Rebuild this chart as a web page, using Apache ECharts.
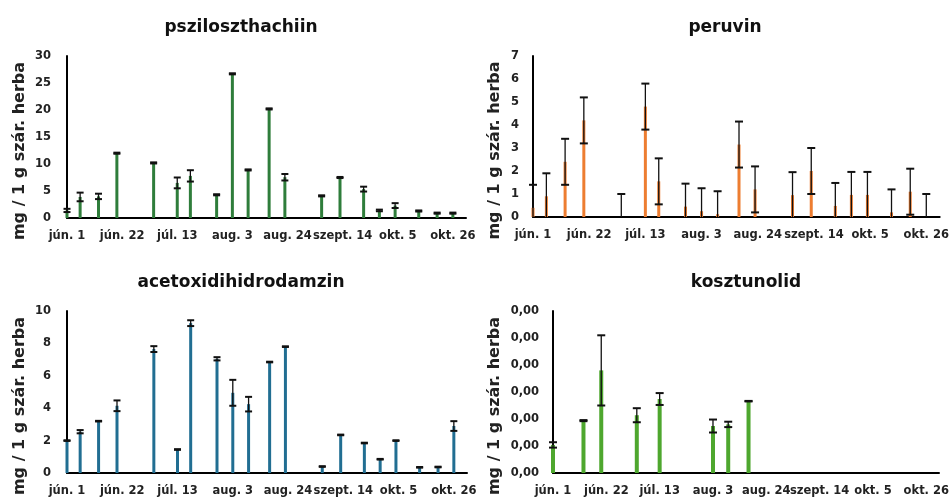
<!DOCTYPE html>
<html><head><meta charset="utf-8">
<script src="https://cdn.jsdelivr.net/npm/echarts@6/dist/echarts.min.js"></script>
<style>html,body{margin:0;padding:0;background:#fff}#c{width:952px;height:499px}</style>
</head><body><div id="c"></div>
<script>
// Sampling dates (2023)
const dates = ['2023-06-01','2023-06-06','2023-06-13','2023-06-20','2023-07-04','2023-07-13','2023-07-18','2023-07-28','2023-08-03','2023-08-09','2023-08-17','2023-08-23','2023-09-06','2023-09-13','2023-09-22','2023-09-28','2023-10-04','2023-10-13','2023-10-20','2023-10-26'];

// psziloszthachiin
const psziVals = [1.4,3.9,4.0,12.0,10.2,6.5,7.8,4.3,26.7,8.9,20.2,7.55,4.1,7.5,5.35,1.4,2.3,1.3,0.9,0.9];
const psziErr  = [0.3,0.8,0.5,0.1,0.1,1.0,1.05,0.1,0.1,0.1,0.1,0.6,0.1,0.1,0.45,0.15,0.45,0.1,0.1,0.1];
// peruvin
const peruVals = [0.4,0.9,2.4,4.2,0.0,4.8,1.55,0.45,0.25,0.12,3.15,1.2,0.95,2.0,0.48,0.96,0.96,0.2,1.1,0.0];
const peruErr  = [1.0,1.0,1.0,1.0,1.0,1.0,1.0,1.0,1.0,1.0,1.0,1.0,1.0,1.0,1.0,1.0,1.0,1.0,1.0,1.0];
// acetoxidihidrodamzin
const acetVals = [2.0,2.55,3.2,4.15,7.65,1.45,9.25,7.05,4.95,4.25,6.85,7.8,0.4,2.35,1.85,0.85,2.0,0.35,0.37,2.9];
const acetErr  = [0.02,0.1,0.02,0.33,0.18,0.02,0.18,0.1,0.8,0.45,0.02,0.02,0.02,0.02,0.02,0.02,0.02,0.02,0.02,0.3];
// kosztunolid
const koszVals = [0.00052,null,0.00097,0.0019,0.00107,0.00137,null,null,0.00087,0.0009,0.00133,null,null,null,null,null,null,null,null,null];
const koszErr  = [0.00005,null,0.00001,0.00065,0.00013,0.00011,null,null,0.00012,0.00005,0.000005,null,null,null,null,null,null,null,null,null];

const xTickLabels = ['jún. 1','jún. 22','júl. 13','aug. 3','aug. 24','szept. 14','okt. 5','okt. 26'];
const titles = ['psziloszthachiin','peruvin','acetoxidihidrodamzin','kosztunolid'];
const yName = 'mg / 1 g szár. herba';

const monthAbbr = {6:'jún.',7:'júl.',8:'aug.',9:'szept.',10:'okt.'};
const base = Date.UTC(2023,5,1);
function dayOf(s){const p=s.split('-').map(Number);return Math.round((Date.UTC(p[0],p[1]-1,p[2])-base)/86400000);}
const days = dates.map(dayOf);

const FONT = 'DejaVu Sans';
const panels = [
  {vals:psziVals, err:psziErr, color:'#2f7d3b', grid:{left:67,top:56,width:399,height:162}, y:{min:0,max:30,interval:5}, fmt:v=>String(v), gap:39, lm:16, capW:7, bw:3},
  {vals:peruVals, err:peruErr, color:'#ED7D31', grid:{left:533,top:56,width:408,height:161}, y:{min:0,max:7,interval:1}, fmt:v=>String(v), gap:30, lm:14, capW:8, bw:3},
  {vals:acetVals, err:acetErr, color:'#216e92', grid:{left:67,top:311,width:400,height:162}, y:{min:0,max:10,interval:2}, fmt:v=>String(v), gap:39, lm:16, capW:7, bw:3},
  {vals:koszVals, err:koszErr, color:'#4ea72e', grid:{left:553,top:311,width:388,height:162}, y:{min:0,max:0.003,interval:0.0005}, fmt:v=>v.toFixed(2).replace('.',','), gap:50, lm:14, capW:8, bw:4}
];

const option = {
  animation:false,
  backgroundColor:'#fff',
  title: [
    {text:titles[0], left:236, top:14, textAlign:'center'},
    {text:titles[1], left:720, top:14, textAlign:'center'},
    {text:titles[2], left:236, top:269, textAlign:'center'},
    {text:titles[3], left:741, top:269, textAlign:'center'}
  ].map(t=>Object.assign(t,{textStyle:{fontFamily:FONT,fontWeight:'bold',fontSize:17,color:'#111'}})),
  grid: panels.map(p=>p.grid),
  xAxis: panels.map((p,i)=>({
    type:'value', gridIndex:i, min:0, max:152, interval:21,
    axisLine:{show:true,onZero:false,lineStyle:{color:'#000',width:2}},
    axisTick:{show:false}, splitLine:{show:false},
    axisLabel:{showMaxLabel:false, margin:12, fontFamily:FONT, fontWeight:'bold', fontSize:11.5, color:'#222',
      formatter:v=>{const k=Math.round(v/21);return (v%21===0 && xTickLabels[k])?xTickLabels[k]:'';}}
  })),
  yAxis: panels.map((p,i)=>({
    type:'value', gridIndex:i, min:p.y.min, max:p.y.max, interval:p.y.interval,
    name:yName, nameLocation:'middle', nameGap:p.gap, nameRotate:90,
    nameTextStyle:{fontFamily:FONT,fontWeight:'bold',fontSize:16,color:'#222',padding:[0,28,0,0]},
    axisLine:{show:true,lineStyle:{color:'#000',width:2}},
    axisTick:{show:false}, splitLine:{show:false},
    axisLabel:{margin:p.lm, fontFamily:FONT, fontWeight:'bold', fontSize:11.5, color:'#222', formatter:p.fmt}
  })),
  series: []
};

panels.forEach((p,i)=>{
  const barData = [], errData = [];
  days.forEach((d,j)=>{
    if (p.vals[j]==null) return;
    barData.push([d,p.vals[j]]);
    errData.push([d,p.vals[j],p.err[j]]);
  });
  option.series.push({
    type:'bar', xAxisIndex:i, yAxisIndex:i, data:barData, barWidth:p.bw,
    itemStyle:{color:p.color}, silent:true
  });
  option.series.push({
    type:'custom', xAxisIndex:i, yAxisIndex:i, data:errData, silent:true, z:5,
    encode:{x:0,y:1},
    renderItem:(params,api)=>{
      const x=api.value(0), v=api.value(1), e=api.value(2);
      const hi=api.coord([x,v+e]), lo=api.coord([x,Math.max(0,v-e)]);
      const w=p.capW;
      const ch=[
        {type:'line',shape:{x1:hi[0],y1:hi[1],x2:lo[0],y2:lo[1]},style:{stroke:'#111',lineWidth:1.3}},
        {type:'line',shape:{x1:hi[0]-w/2,y1:hi[1],x2:hi[0]+w/2,y2:hi[1]},style:{stroke:'#111',lineWidth:2}}
      ];
      if (v-e>0) ch.push({type:'line',shape:{x1:lo[0]-w/2,y1:lo[1],x2:lo[0]+w/2,y2:lo[1]},style:{stroke:'#111',lineWidth:2}});
      return {type:'group',children:ch};
    }
  });
});

const chart = echarts.init(document.getElementById('c'),null,{renderer:'canvas'});
chart.setOption(option);
</script>
</body></html>
